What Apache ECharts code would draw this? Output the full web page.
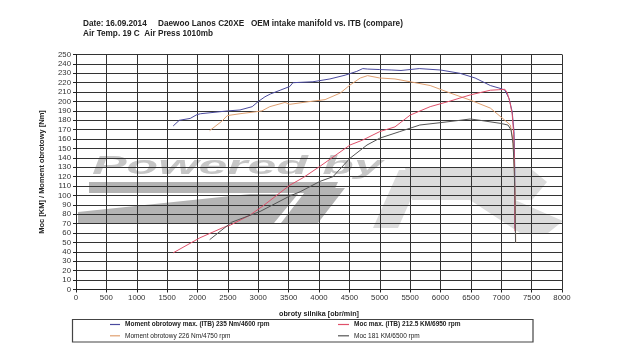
<!DOCTYPE html>
<html>
<head>
<meta charset="utf-8">
<script src="https://cdn.jsdelivr.net/npm/echarts@6/dist/echarts.min.js"></script>
<style>html,body{margin:0;padding:0;background:#fff}#c{width:620px;height:358px}</style>
</head>
<body>
<div id="c"></div>
<script>
// ---- data ----
var titleLines = ['Date: 16.09.2014     Daewoo Lanos C20XE   OEM intake manifold vs. ITB (compare)', 'Air Temp. 19 C  Air Press 1010mb'];
var xAxisName = 'obroty silnika [obr/min]';
var yAxisName = 'Moc [KM] / Moment obrotowy [Nm]';
var seriesNames = ['Moment obrotowy max. (ITB) 235 Nm/4600 rpm', 'Moment obrotowy 226 Nm/4750 rpm', 'Moc max. (ITB) 212.5 KM/6950 rpm', 'Moc 181 KM/6500 rpm'];

var torqueItbRpm = [1600,1700,1880,1990,2050,2500,2700,2900,3000,3110,3200,3360,3520,3570,3900,4180,4430,4620,4720,4800,5000,5200,5350,5650,6000,6320,6570,6820,6980,7060,7130,7180,7210,7222,7225];
var torqueItbVal = [174,180,182,186,187,190,191,194.5,200,205,208,212,216,220,221,224,228,232,235,234.5,234,233.5,233,235,233.5,230,225,217,214,212,203,189,168,130,65];

var torqueStdRpm = [2200,2400,2490,2700,2950,3060,3190,3440,3520,3850,4100,4350,4510,4680,4800,5000,5250,5500,5830,6160,6490,6820,7060,7150,7190,7215,7230,7238];
var torqueStdVal = [169,179,185,187,189,190,194.5,199,197,200,202,209,217.5,225,227.5,225,224,221,217,209,201.5,193,180,175,160,130,90,50];

var powerItbRpm = [1600,2040,2425,2540,2860,3080,3520,3740,4015,4510,4720,5000,5250,5500,5830,6160,6490,6820,6950,7060,7100,7140,7180,7205,7218,7222,7225];
var powerItbVal = [39,55,66,68.5,79,89,111,119,131,153.7,159,168,173,185.5,194.5,200.5,207,212,212.5,213,209,200,187,165,130,95,62];

var powerStdRpm = [2200,2560,3030,3520,3690,4015,4230,4510,4790,5000,5330,5660,6000,6320,6490,6650,6980,7110,7160,7195,7215,7228,7235];
var powerStdVal = [53,71.5,83,99.5,104,115,120,139.6,153.7,161,168,175,177.5,180,181.4,180,176.8,175,170,155,125,90,50];

function pairs(xs, ys){ return xs.map(function(x,i){ return [x, ys[i]]; }); }

var FONT = '"Liberation Sans", Arial, sans-serif';
var colors = ['#4a4a9e', '#e0a070', '#e0506a', '#555555'];

var chart = echarts.init(document.getElementById('c'), null, {renderer:'canvas'});

function mkSeries(name, data, color){
  return {name:name, type:'line', data:data, showSymbol:false, symbol:'none', smooth:false,
    lineStyle:{color:color, width:1}, itemStyle:{color:color}, z:3, animation:false};
}

var option = {
  backgroundColor:'#fff',
  animation:false,
  title:{
    text: titleLines.join('\n'), left:83, top:18.5, padding:0,
    textStyle:{fontFamily:FONT, fontSize:8.2, fontWeight:'bold', color:'#222', lineHeight:10}
  },
  grid:{left:76, right:58, top:54.5, bottom:68.5, containLabel:false},
  xAxis:{
    type:'value', min:0, max:8000, interval:500,
    name:xAxisName, nameLocation:'middle', nameGap:21,
    nameTextStyle:{fontFamily:FONT, fontSize:7.2, fontWeight:'bold', color:'#222'},
    axisLine:{show:true, onZero:false, lineStyle:{color:'#222', width:1}},
    axisTick:{show:true, length:3, lineStyle:{color:'#222'}},
    axisLabel:{fontFamily:FONT, fontSize:7.8, color:'#333', margin:4, formatter:function(v){ return String(v); }},
    splitLine:{show:true, lineStyle:{color:'#333', width:1}}
  },
  yAxis:{
    type:'value', min:0, max:250, interval:10,
    name:yAxisName, nameLocation:'middle', nameGap:30, nameRotate:90,
    nameTextStyle:{fontFamily:FONT, fontSize:7.5, fontWeight:'bold', color:'#222'},
    axisLine:{show:true, lineStyle:{color:'#222', width:1}},
    axisTick:{show:true, length:3, lineStyle:{color:'#222'}},
    axisLabel:{fontFamily:FONT, fontSize:7.8, color:'#333', margin:5},
    splitLine:{show:true, lineStyle:{color:'#333', width:1}}
  },
  legend:[
    {orient:'vertical', left:110, top:320.5, padding:0, itemWidth:10, itemHeight:1.2, itemGap:3.3, icon:'rect',
     textStyle:{fontFamily:FONT, fontSize:6.5, color:'#222', lineHeight:8},
     data:[{name:seriesNames[0], textStyle:{fontWeight:'bold'}}, {name:seriesNames[1]}]},
    {orient:'vertical', left:338, top:320.5, padding:0, itemWidth:11, itemHeight:1.2, itemGap:3.3, icon:'rect',
     textStyle:{fontFamily:FONT, fontSize:6.5, color:'#222', lineHeight:8},
     data:[{name:seriesNames[2], textStyle:{fontWeight:'bold'}}, {name:seriesNames[3]}]}
  ],
  graphic:[
    // legend frame
    {type:'rect', shape:{x:72.5, y:319.5, width:460.5, height:22.5}, style:{fill:null, stroke:'#444', lineWidth:1.2}, z:1},
    // watermark "Powered by TR"
    {type:'text', x:92, y:154, scaleX:1.85, scaleY:0.9, z:-5, silent:true,
     style:{text:'Powered by', font:'italic bold 28px "Liberation Sans"', fill:'#c6c6c6', verticalAlign:'top'}},
    {type:'polygon', z:-5, silent:true, shape:{points:[[89,182],[338,182],[333,193],[89,193]]}, style:{fill:'#b4b4b4'}},
    {type:'polygon', z:-5, silent:true, shape:{points:[[78,212],[250,194],[298,194],[274,223],[78,223]]}, style:{fill:'#b4b4b4'}},
    {type:'polygon', z:-5, silent:true, shape:{points:[[281,223],[318,223],[345,188],[308,188]]}, style:{fill:'#b4b4b4'}},
    {type:'polygon', z:-5, silent:true, shape:{points:[[373,228],[398,228],[424,170],[399,170]]}, style:{fill:'#dcdcdc'}},
    {type:'polygon', z:-5, silent:true, shape:{points:[[405,168],[530,168],[547,182],[532,200],[412,200]]}, style:{fill:'#dcdcdc'}},
    {type:'polygon', z:-5, silent:true, shape:{points:[[470,200],[515,200],[563,221],[548,233],[520,233]]}, style:{fill:'#dcdcdc'}}
  ],
  series:[
    mkSeries(seriesNames[0], pairs(torqueItbRpm, torqueItbVal), colors[0]),
    mkSeries(seriesNames[1], pairs(torqueStdRpm, torqueStdVal), colors[1]),
    mkSeries(seriesNames[2], pairs(powerItbRpm, powerItbVal), colors[2]),
    mkSeries(seriesNames[3], pairs(powerStdRpm, powerStdVal), colors[3])
  ]
};
chart.setOption(option);
</script>
</body>
</html>
